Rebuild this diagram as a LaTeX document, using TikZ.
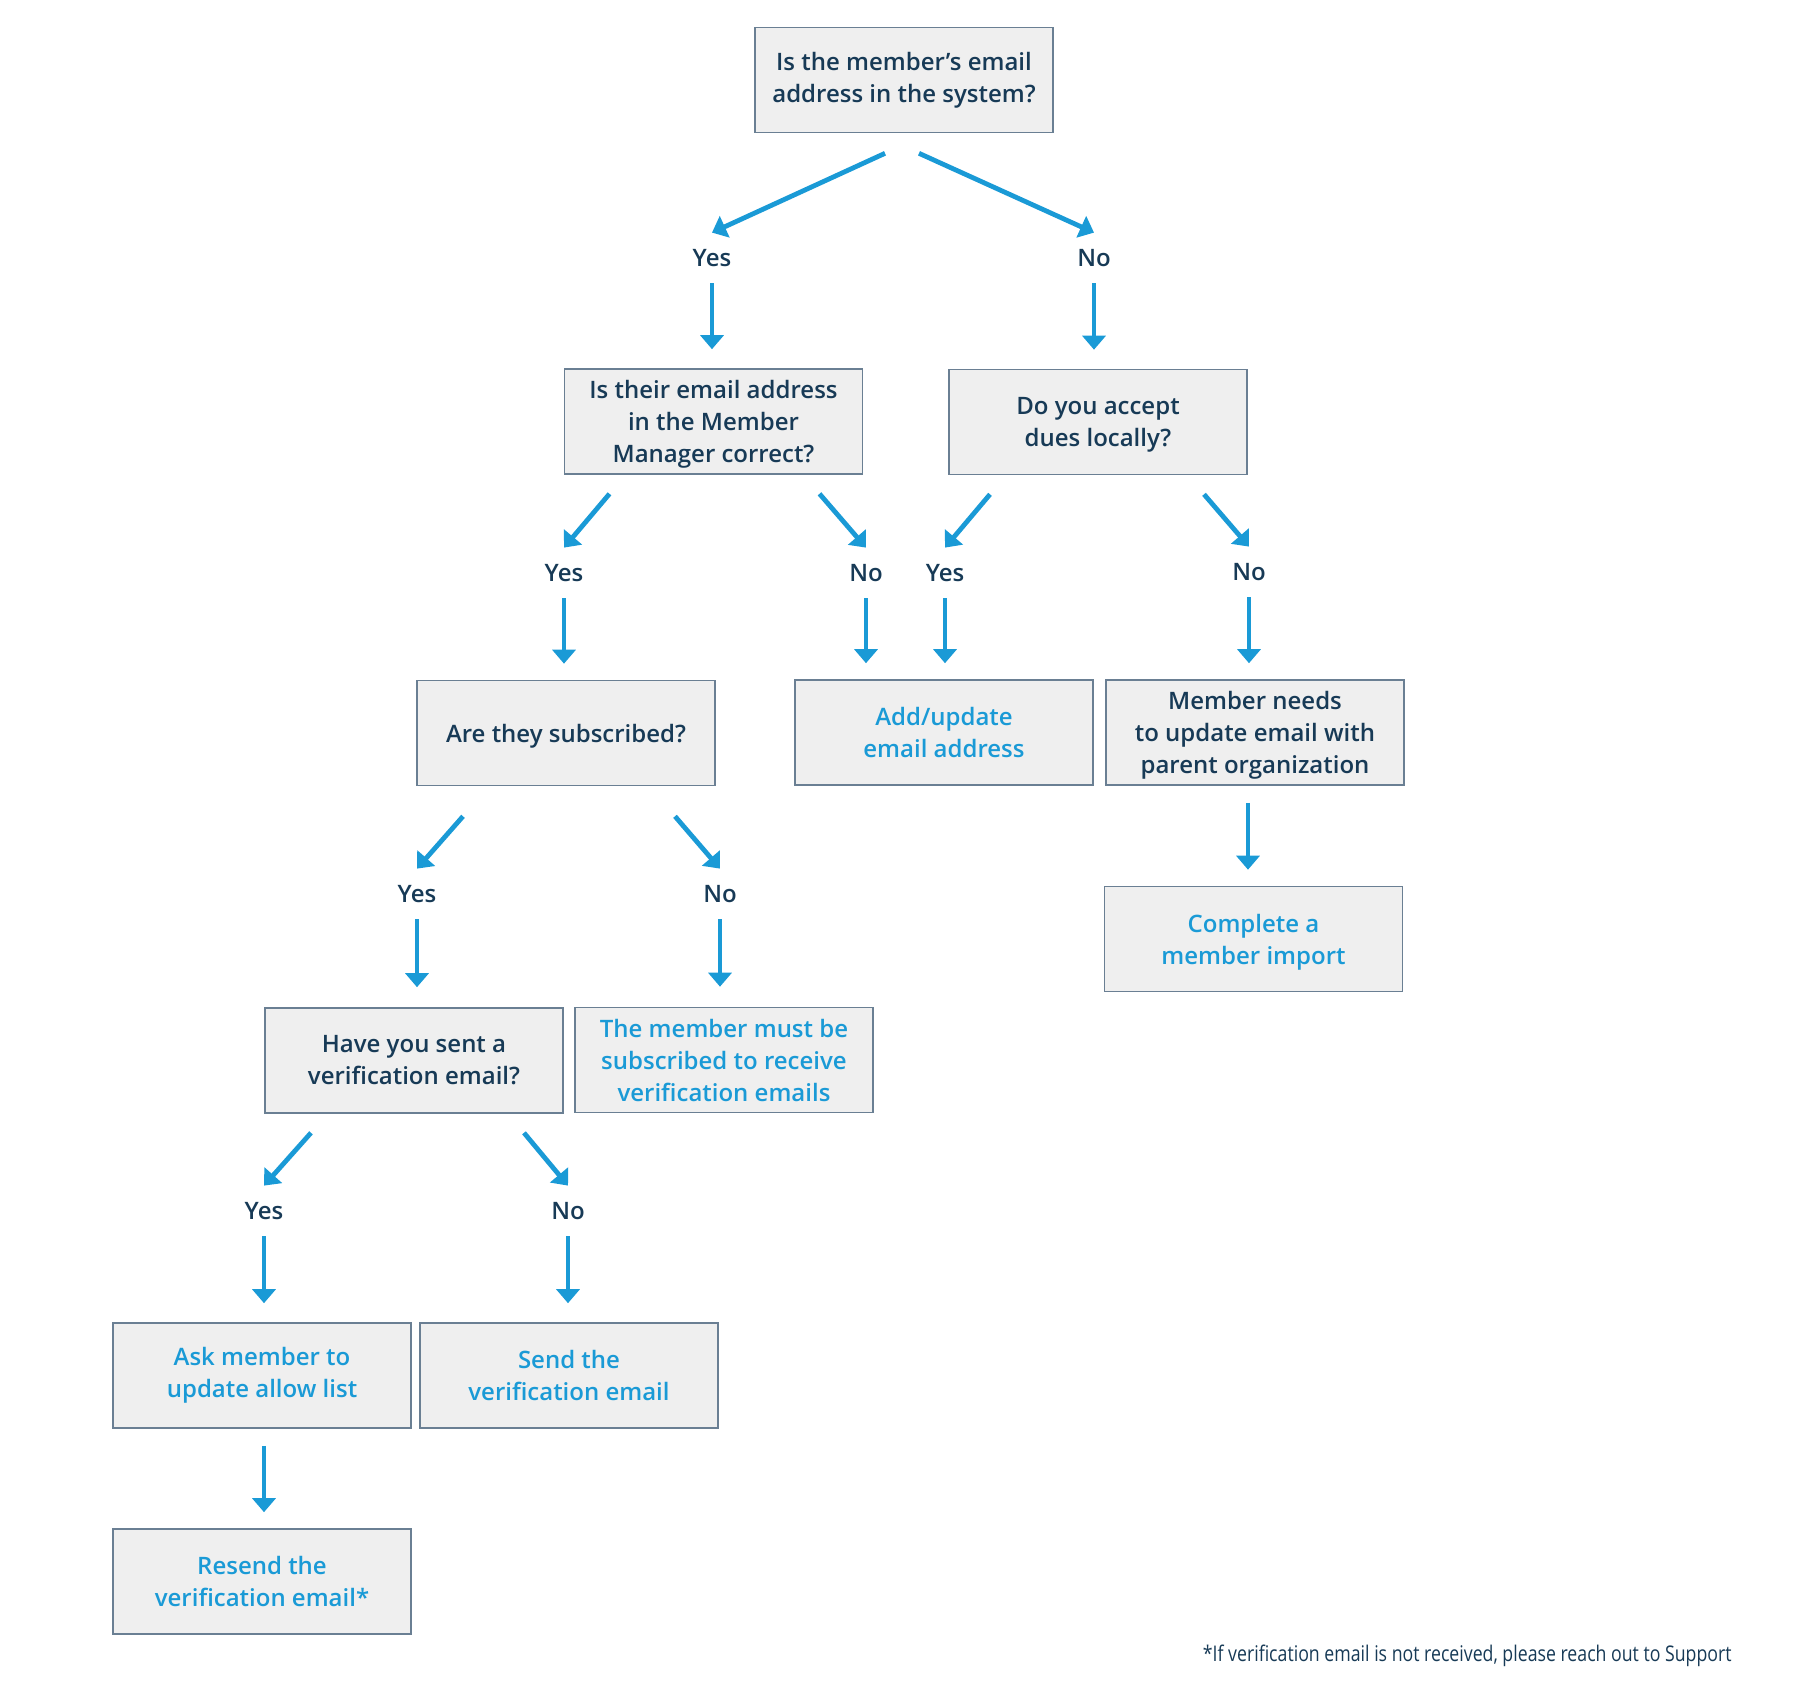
\documentclass[tikz,border=0pt]{standalone}
\usepackage{fontspec}
\IfFontExistsTF{Open Sans Semibold}{\setmainfont{Open Sans Semibold}}{%
  \IfFontExistsTF{Open Sans SemiBold}{\setmainfont{Open Sans SemiBold}}{%
    \setmainfont{Open Sans}[UprightFeatures={FakeBold=0.5}]}}
\newfontfamily\notefont{Open Sans}[FakeStretch=0.82]
\usetikzlibrary{arrows.meta}
\definecolor{navy}{HTML}{173A56}
\definecolor{flowblue}{HTML}{1A9AD6}
\definecolor{boxfill}{HTML}{EFEFEF}
\definecolor{boxline}{HTML}{6A7F93}

\begin{document}
\begin{tikzpicture}[
  x=0.5pt, y=-0.5pt,
  font=\fontsize{12pt}{16pt}\selectfont,
  box/.style={draw=boxline, line width=0.8pt, fill=boxfill, text=navy, align=center, inner sep=0pt, minimum width=149pt, minimum height=52.5pt},
  ans/.style={box, text=flowblue},
  low/.style={text depth=0pt},
  lbl/.style={text=navy, text height=8.5pt, text depth=0pt, inner xsep=2pt, inner ysep=8.25pt},
  arr/.style={-{Triangle[length=7pt, width=11.5pt]}, line width=2.4pt, draw=flowblue},
  note/.style={font=\notefont\fontsize{10.8pt}{12pt}\selectfont, text=navy, inner sep=0pt},
]
\useasboundingbox (0,0) rectangle (1810,1699);
% questions and answers
\node[box] (q1) at (904,80) {Is the member’s email\\address in the system?};
\node[box, low] (q2) at (713.5,421.5) {Is their email address\\in the Member\\Manager correct?};
\node[box, low] (q3) at (1098,422) {Do you accept\\dues locally?};
\node[box, low] (q4) at (566,733) {Are they subscribed?};
\node[ans] (a1) at (944,732.5) {Add/update\\email address};
\node[box, low] (a2) at (1255,732.5) {Member needs\\to update email with\\parent organization};
\node[ans, low] (a3) at (1253.5,939) {Complete a\\member import};
\node[box] (q5) at (414,1060.5) {Have you sent a\\verification email?};
\node[ans] (a4) at (724,1060) {The member must be\\subscribed to receive\\verification emails};
\node[ans] (a5) at (262,1375.5) {Ask member to\\update allow list};
\node[ans] (a6) at (569,1375.5) {Send the\\verification email};
\node[ans] (a7) at (262,1581.5) {Resend the\\verification email*};
% yes / no labels
\node[lbl] (y1) at (712,258) {Yes};
\node[lbl] (n1) at (1094,258) {No};
\node[lbl] (y2) at (564,573) {Yes};
\node[lbl] (n2) at (866,573) {No};
\node[lbl] (y3) at (945,573) {Yes};
\node[lbl] (n3) at (1249,572) {No};
\node[lbl] (y4) at (417,894) {Yes};
\node[lbl] (n4) at (720,894) {No};
\node[lbl] (y5) at (264,1211) {Yes};
\node[lbl] (n5) at (568,1211) {No};
% branches
\draw[arr] ([xshift=-9.5pt, yshift=-10pt]q1.south) -- (y1.north);
\draw[arr] ([xshift=7.5pt, yshift=-10pt]q1.south) -- (n1.north);
\draw[arr] ([xshift=-52pt, yshift=-9.5pt]q2.south) -- (y2.north);
\draw[arr] ([xshift=53pt, yshift=-9.5pt]q2.south) -- (n2.north);
\draw[arr] ([xshift=-54pt, yshift=-9.5pt]q3.south) -- (y3.north);
\draw[arr] ([xshift=53pt, yshift=-9.5pt]q3.south) -- (n3.north);
\draw[arr] ([xshift=-51.5pt, yshift=-15pt]q4.south) -- (y4.north);
\draw[arr] ([xshift=54.5pt, yshift=-15pt]q4.south) -- (n4.north);
\draw[arr] ([xshift=-51.5pt, yshift=-9.5pt]q5.south) -- (y5.north);
\draw[arr] ([xshift=55pt, yshift=-9.5pt]q5.south) -- (n5.north);
% down to the next box
\draw[arr, shorten >=9.5pt] (y1.south) -- (y1.south |- q2.north);
\draw[arr, shorten >=9.5pt] (n1.south) -- (n1.south |- q3.north);
\draw[arr, shorten >=8pt] (y2.south) -- (y2.south |- q4.north);
\draw[arr, shorten >=8pt] (n2.south) -- (n2.south |- a1.north);
\draw[arr, shorten >=8pt] (y3.south) -- (y3.south |- a1.north);
\draw[arr, shorten >=8pt] (n3.south) -- (n3.south |- a2.north);
\draw[arr, shorten >=10pt] (y4.south) -- (y4.south |- q5.north);
\draw[arr, shorten >=10pt] (n4.south) -- (n4.south |- a4.north);
\draw[arr, shorten >=9.5pt] (y5.south) -- (y5.south |- a5.north);
\draw[arr, shorten >=9.5pt] (n5.south) -- (n5.south |- a6.north);
\draw[arr, shorten <=8.5pt, shorten >=8pt] ([xshift=-3.5pt]a2.south) -- ([xshift=-3.5pt]a2.south |- a3.north);
\draw[arr, shorten <=8.5pt, shorten >=8pt] ([xshift=1pt]a5.south) -- ([xshift=1pt]a5.south |- a7.north);
\node[note, anchor=east] (fn) at (1732,1656) {*If verification email is not received, please reach out to Support};
\end{tikzpicture}
\end{document}
